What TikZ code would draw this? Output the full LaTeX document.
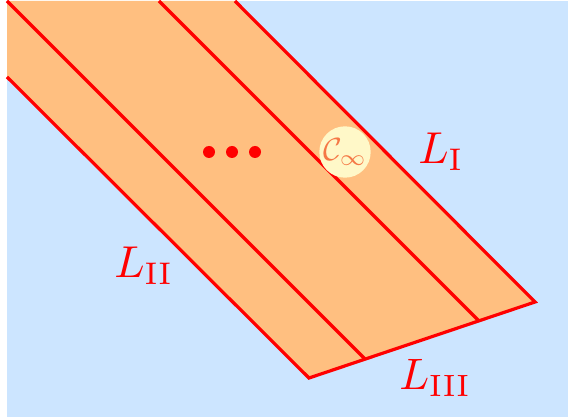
\documentclass[tikz,border=0pt]{standalone}
\usepackage{graphicx}
\begin{document}
\begin{tikzpicture}[x=0.75pt,y=-0.75pt,
  redline/.style={draw=red,line width=2.4pt},
  lbl/.style={text=red,inner sep=0pt},
  dotmark/.style={circle,fill=red,inner sep=0pt,minimum size=9pt}]
\definecolor{bgblue}{RGB}{204,229,255}
\definecolor{band}{RGB}{255,191,128}
\definecolor{disc}{RGB}{255,248,200}
\definecolor{ctext}{RGB}{245,120,70}
\useasboundingbox (0,0) rectangle (568,420);
\fill[bgblue] (7,1) rectangle (568,417);
% corners
\coordinate (TL) at (7,1);
\coordinate (T1) at (159,1);
\coordinate (T2) at (235,1);
\coordinate (LL) at (7,77);
\coordinate (B) at (309,378);
\coordinate (R) at (535,302);
\coordinate (M1) at (365,359);
\coordinate (M2) at (479,321);
\fill[band] (TL) -- (T2) -- (R) -- (B) -- (LL) -- cycle;
\draw[redline,line join=miter] (T2) -- (R) -- (B) -- (LL);
\draw[redline] (TL) -- (M1);
\draw[redline] (T1) -- (M2);
\node[dotmark] (d1) at (209,152) {};
\node[dotmark] (d2) at (232,152) {};
\node[dotmark] (d3) at (255,152) {};
\node[circle,fill=disc,minimum size=36pt,inner sep=0pt,text=ctext] (c) at (345,152) {\scalebox{2.4}{$\mathcal{C}_\infty$}};
\node[lbl,anchor=base west] (l1) at (418,164) {\scalebox{3.35}{$L_{\mathrm{I}}$}};
\node[lbl,anchor=base west] (l2) at (114,278) {\scalebox{3.35}{$L_{\mathrm{II}}$}};
\node[lbl,anchor=base west] (l3) at (399,390) {\scalebox{3.3}{$L_{\mathrm{III}}$}};
\end{tikzpicture}
\end{document}
